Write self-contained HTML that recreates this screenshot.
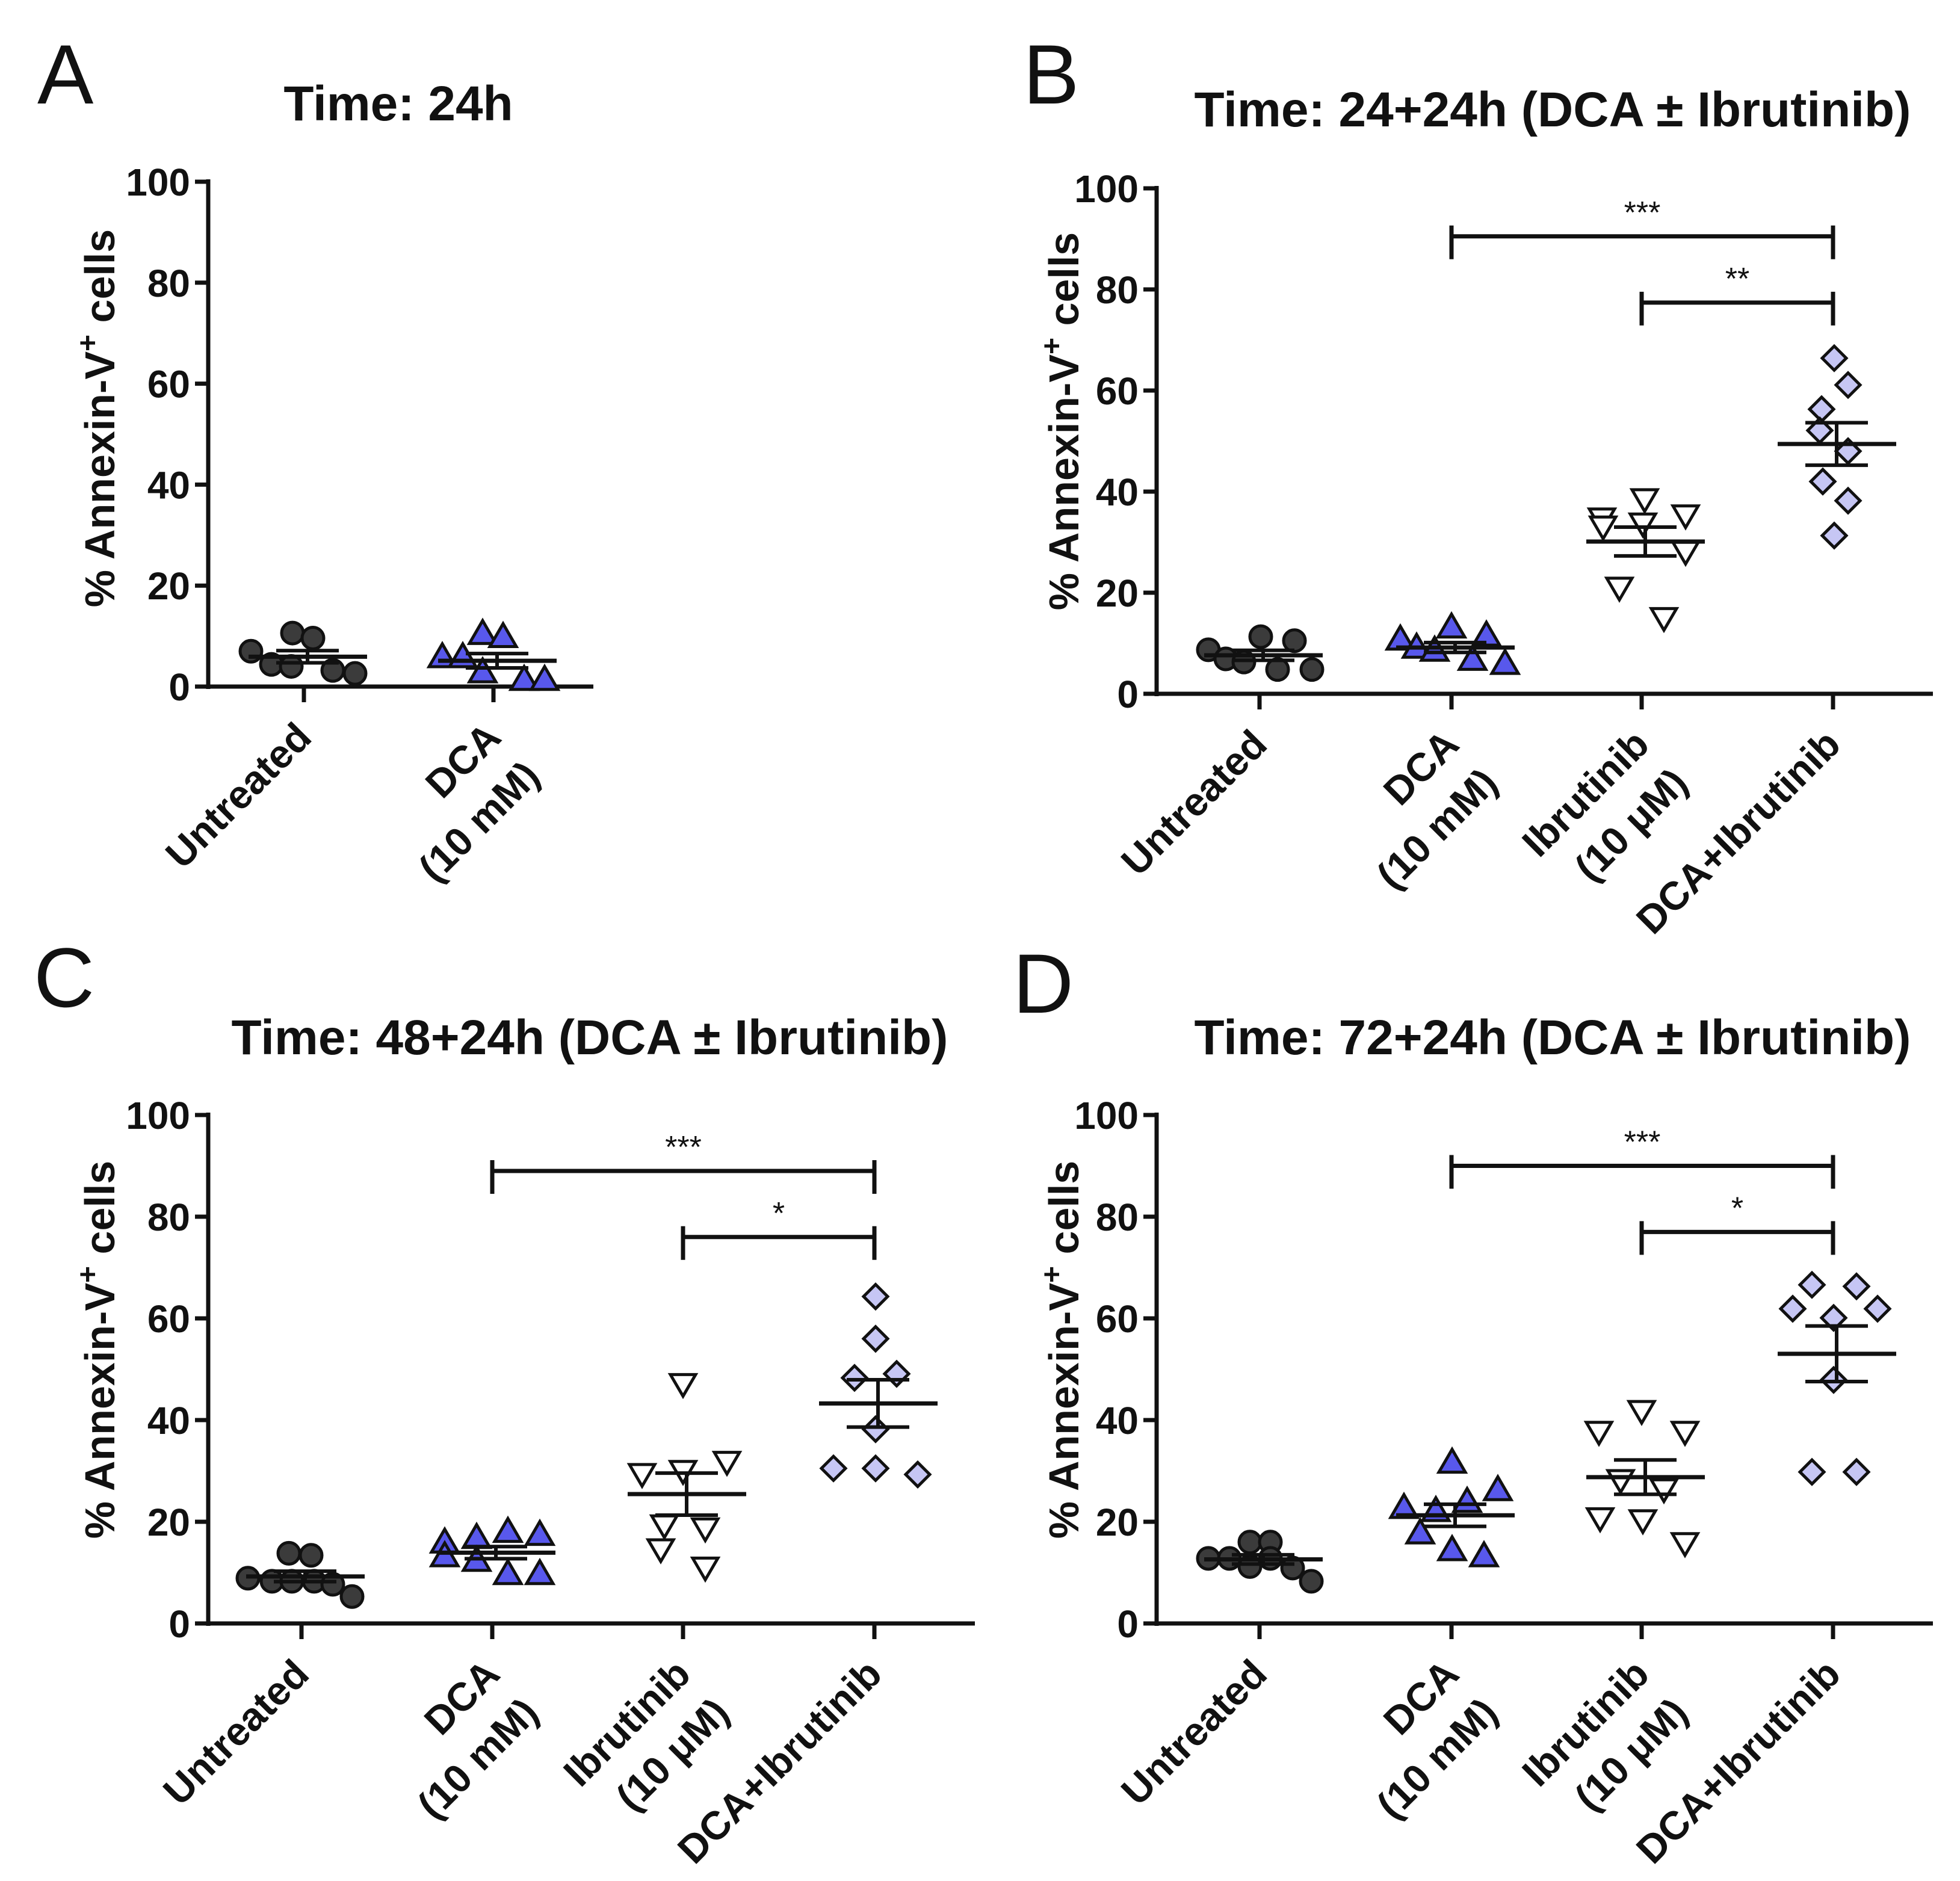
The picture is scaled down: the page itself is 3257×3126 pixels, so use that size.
<!DOCTYPE html>
<html><head><meta charset="utf-8"><style>
html,body{margin:0;padding:0;background:#fff;}
svg{display:block;}
text{font-family:"Liberation Sans",Arial,sans-serif;fill:#111;}
</style></head><body>
<svg id="fig" xmlns="http://www.w3.org/2000/svg" width="3257" height="3126" viewBox="0 0 3257 3126"></svg>
<script>
// ---- data ----
const categoriesA = ["Untreated", "DCA|(10 mM)"];
const categoriesBCD = ["Untreated", "DCA|(10 mM)", "Ibrutinib|(10 \u03bcM)", "DCA+Ibrutinib"];
const yTicks = [0, 20, 40, 60, 80, 100];

const aUntreated = [7.0, 10.6, 9.6, 4.4, 4.0, 3.2, 2.6];
const aDCA = [5.6, 5.6, 10.2, 9.6, 2.6, 1.1, 1.1];

const bUntreated = [8.7, 6.9, 6.3, 11.3, 4.8, 10.5, 4.8];
const bDCA = [10.5, 8.9, 8.3, 12.9, 6.5, 11.3, 5.7];
const bIbr = [34.9, 33.3, 38.7, 33.9, 35.5, 28.3, 21.2, 15.2];
const bCombo = [66.4, 61.1, 56.3, 52.1, 48.0, 42.0, 38.2, 31.3];

const cUntreated = [8.9, 8.3, 13.8, 8.3, 13.4, 8.3, 7.7, 5.3];
const cDCA = [15.7, 13.0, 16.6, 12.1, 17.8, 9.5, 17.2, 9.5];
const cIbr = [47.3, 29.6, 30.2, 32.0, 19.5, 18.9, 14.8, 11.2];
const cCombo = [64.3, 56.0, 48.3, 49.1, 38.2, 30.5, 30.5, 29.3];

const dUntreated = [12.8, 12.8, 16.0, 11.2, 16.0, 12.8, 10.9, 8.3];
const dDCA = [31.4, 26.0, 22.5, 21.9, 23.7, 17.5, 14.2, 13.0];
const dIbr = [42.0, 37.9, 37.9, 28.4, 26.6, 20.9, 20.5, 16.0];
const dCombo = [66.6, 66.3, 61.9, 61.9, 60.1, 47.9, 29.8, 29.8];

const sigB = [["***", 1, 3, 90.5], ["**", 2, 3, 77.4]];
const sigC = [["***", 1, 3, 89.0], ["*", 2, 3, 76.0]];
const sigD = [["***", 1, 3, 90.0], ["*", 2, 3, 77.0]];

// ---- layout (jitter offsets in px, not data) ----
const jit = {
  aU:[-88,-19,15,-54,-21,48,85], aD:[-85,-51,-18,16,-18,51,85],
  bU:[-85,-56,-26,2,30,58,87], bD:[-85,-58,-28,0,35,58,89], bI:[-66,-64,5,2,73,73,-37,37], bC:[2,25,-19,-22,25,-17,25,2],
  cU:[-89,-49,-21,-16,16,21,52,84], cD:[-79,-79,-26,-26,26,26,79,79], cI:[0,-68,0,73,-31,37,-37,37], cC:[2,2,-33,37,2,-68,2,72],
  dU:[-85,-50,-16,-16,18,18,55,86], dD:[1,77,-79,-26,26,-52,1,54], dI:[0,-71,72,-35,37,-69,2,72], dC:[-35,39,-67,74,1,1,-35,39]
};
const NS = "http://www.w3.org/2000/svg";
const svg = document.getElementById("fig");
function mk(tag, attrs, parent, txt){
  const e = document.createElementNS(NS, tag);
  for (const k in attrs) e.setAttribute(k, attrs[k]);
  if (txt !== undefined) e.textContent = txt;
  (parent || svg).appendChild(e);
  return e;
}
const styles = {
  circle:{fill:"#3b3b3b"}, up:{fill:"#5858ec"}, down:{fill:"#ffffff"}, diamond:{fill:"#c6c6f4"}
};
function marker(g, kind, x, y){
  let e;
  if (kind === "circle") e = mk("circle", {cx:x, cy:y, r:18, fill:styles.circle.fill, stroke:"#111", "stroke-width":5}, g);
  else if (kind === "up") e = mk("polygon", {points:`${x},${y-24} ${x+22},${y+14} ${x-22},${y+14}`, fill:styles.up.fill, stroke:"#111", "stroke-width":5}, g);
  else if (kind === "down") e = mk("polygon", {points:`${x},${y+22} ${x+21},${y-14} ${x-21},${y-14}`, fill:styles.down.fill, stroke:"#111", "stroke-width":5}, g);
  else e = mk("polygon", {points:`${x},${y-20} ${x+20},${y} ${x},${y+20} ${x-20},${y}`, fill:styles.diamond.fill, stroke:"#111", "stroke-width":5}, g);
  
  
}
function panel(p){
  const g = mk("g", {}, svg);
  
  
  const yS = v => p.y0 - (p.y0 - p.y100) * v / 100;
  const lt = mk("text", {x:p.lx, y:p.ly, "font-size":140}, g, p.letter);
  
  
  const tt = mk("text", {x:p.tcx, y:p.ty, "font-size":82, "font-weight":"bold", "text-anchor":"middle"}, g, p.title);
  
  
  const ya = mk("line", {x1:p.ax, y1:p.y100-4, x2:p.ax, y2:p.y0+4, stroke:"#111", "stroke-width":7}, g);
  
  
  yTicks.forEach(t => {
    const yy = yS(t);
    mk("line", {x1:p.ax-22, y1:yy, x2:p.ax, y2:yy, stroke:"#111", "stroke-width":7}, g);
    const tl = mk("text", {x:p.ax-30, y:yy+23, "font-size":64, "font-weight":"bold", "text-anchor":"end"}, g, String(t));
    
    
  });
  const yl = mk("text", {x:0, y:0, "font-size":70, "font-weight":"bold", "text-anchor":"middle",
    transform:`translate(${p.ylx},${p.yly}) rotate(-90)`}, g);
  
  
  mk("tspan", {}, yl, "% Annexin-V");
  mk("tspan", {dy:-28, "font-size":48}, yl, "+");
  mk("tspan", {dy:28}, yl, " cells");
  const xa = mk("line", {x1:p.ax-22, y1:p.y0, x2:p.xEnd, y2:p.y0, stroke:"#111", "stroke-width":7}, g);
  
  
  p.cats.forEach((c, i) => {
    const tx = p.ticks[i];
    mk("line", {x1:tx, y1:p.y0, x2:tx, y2:p.y0+26, stroke:"#111", "stroke-width":7}, g);
    const lines = c.split("|");
    lines.forEach((ln, j) => {
      const ex = tx + 16 + j * 64, ey = p.y0 + 88 + j * 64;
      const xl = mk("text", {x:0, y:0, "font-size":66, "font-weight":"bold", "text-anchor":"end",
        transform:`translate(${ex},${ey}) rotate(-45)`}, g, ln);
      
      
    });
  });
  p.series.forEach((s, i) => {
    const tx = p.ticks[i];
    const sg = mk("g", {}, g);
    
    
    s.vals.forEach((v, k) => marker(sg, s.kind, tx + s.jit[k], yS(v)));
    const n = s.vals.length;
    const mean = s.vals.reduce((a, b) => a + b, 0) / n;
    const sd = Math.sqrt(s.vals.reduce((a, b) => a + (b - mean) * (b - mean), 0) / (n - 1));
    const sem = sd / Math.sqrt(n);
    const ml = mk("line", {x1:tx-92, y1:yS(mean), x2:tx+105, y2:yS(mean), stroke:"#111", "stroke-width":7}, sg);
    
    
    mk("line", {x1:tx+6, y1:yS(mean+sem), x2:tx+6, y2:yS(mean-sem), stroke:"#111", "stroke-width":6}, sg);
    mk("line", {x1:tx-46, y1:yS(mean+sem), x2:tx+58, y2:yS(mean+sem), stroke:"#111", "stroke-width":6}, sg);
    mk("line", {x1:tx-46, y1:yS(mean-sem), x2:tx+58, y2:yS(mean-sem), stroke:"#111", "stroke-width":6}, sg);
  });
  (p.sig || []).forEach(s => {
    const [lab, a, b, v] = s;
    const x1 = p.ticks[a], x2 = p.ticks[b], yy = yS(v);
    const bg = mk("g", {}, g);
    
    
    mk("path", {d:`M${x1},${yy-18} V${yy+38} M${x1},${yy} H${x2} M${x2},${yy-18} V${yy+38}`, stroke:"#111", "stroke-width":7, fill:"none"}, bg);
    mk("text", {x:(x1+x2)/2, y:yy-22, "font-size":52, "text-anchor":"middle"}, bg, lab);
  });
}
panel({letter:"A", lx:62, ly:172, title:"Time: 24h", tcx:662, ty:200, ax:346, y0:1141, y100:302, xEnd:986,
  ticks:[505, 820], cats:categoriesA, ylx:190, yly:695,
  series:[{vals:aUntreated, kind:"circle", jit:jit.aU}, {vals:aDCA, kind:"up", jit:jit.aD}]});
panel({letter:"B", lx:1700, ly:172, title:"Time: 24+24h (DCA \u00b1 Ibrutinib)", tcx:2580, ty:210, ax:1922, y0:1153, y100:313, xEnd:3212,
  ticks:[2093, 2412, 2728, 3046], cats:categoriesBCD, ylx:1792, yly:700, sig:sigB,
  series:[{vals:bUntreated, kind:"circle", jit:jit.bU}, {vals:bDCA, kind:"up", jit:jit.bD},
          {vals:bIbr, kind:"down", jit:jit.bI}, {vals:bCombo, kind:"diamond", jit:jit.bC}]});
panel({letter:"C", lx:56, ly:1673, title:"Time: 48+24h (DCA \u00b1 Ibrutinib)", tcx:980, ty:1752, ax:346, y0:2698, y100:1853, xEnd:1620,
  ticks:[501, 818, 1135, 1453], cats:categoriesBCD, ylx:190, yly:2243, sig:sigC,
  series:[{vals:cUntreated, kind:"circle", jit:jit.cU}, {vals:cDCA, kind:"up", jit:jit.cD},
          {vals:cIbr, kind:"down", jit:jit.cI}, {vals:cCombo, kind:"diamond", jit:jit.cC}]});
panel({letter:"D", lx:1683, ly:1683, title:"Time: 72+24h (DCA \u00b1 Ibrutinib)", tcx:2580, ty:1752, ax:1922, y0:2698, y100:1853, xEnd:3212,
  ticks:[2093, 2412, 2728, 3046], cats:categoriesBCD, ylx:1792, yly:2243, sig:sigD,
  series:[{vals:dUntreated, kind:"circle", jit:jit.dU}, {vals:dDCA, kind:"up", jit:jit.dD},
          {vals:dIbr, kind:"down", jit:jit.dI}, {vals:dCombo, kind:"diamond", jit:jit.dC}]});
</script>
</body></html>
